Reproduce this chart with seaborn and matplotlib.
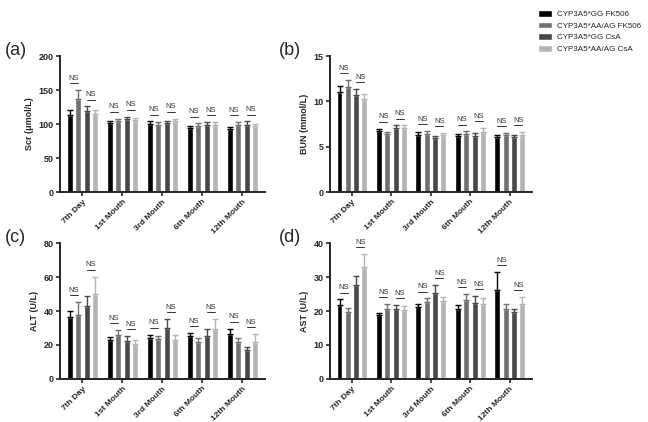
import matplotlib
matplotlib.use('Agg')

import numpy as np
import pandas as pd
import matplotlib.pyplot as plt
import seaborn as sns

# time points and groups
times = ['7th Day', '1st Mouth', '3rd Mouth', '6th Mouth', '12th Mouth']
groups = ['CYP3A5*GG FK506', 'CYP3A5*AA/AG FK506', 'CYP3A5*GG CsA', 'CYP3A5*AA/AG CsA']
colors = ['#000000', '#707070', '#484848', '#b4b4b4']

# means per group (rows = groups, cols = time points)
scr_mean = [[113, 101, 100, 94, 93], [137, 104, 99, 97, 99], [119, 108, 101, 99, 99], [115, 106, 105, 99, 97]]
scr_err = [[7, 4, 4, 3, 3], [13, 4, 4, 4, 4], [7, 3, 3, 4, 5], [5, 3, 3, 4, 3]]
bun_mean = [[11.0, 6.7, 6.3, 6.15, 6.05], [11.55, 6.35, 6.45, 6.45, 6.25], [10.7, 7.05, 5.95, 6.2, 6.05], [10.3, 7.05, 6.25, 6.65, 6.3]]
bun_err = [[0.7, 0.3, 0.3, 0.2, 0.25], [0.85, 0.3, 0.3, 0.25, 0.3], [0.65, 0.3, 0.25, 0.3, 0.25], [0.55, 0.3, 0.3, 0.45, 0.3]]
alt_mean = [[36.2, 22.8, 24.2, 25.0, 26.5], [37.7, 26.1, 23.6, 21.6, 21.6], [43.0, 22.6, 29.9, 25.0, 17.3], [49.9, 20.6, 23.0, 29.7, 22.0]]
alt_err = [[4.1, 1.8, 1.9, 2.1, 3.2], [7.5, 2.6, 1.9, 2.4, 2.4], [5.7, 2.7, 5.3, 4.3, 1.8], [10.4, 2.2, 3.1, 5.5, 4.3]]
ast_mean = [[21.8, 18.7, 21.3, 20.6, 26.2], [19.7, 20.7, 22.6, 23.1, 20.7], [27.7, 20.6, 25.4, 22.5, 19.7], [32.9, 20.2, 22.9, 22.1, 22.2]]
ast_err = [[1.6, 0.8, 0.9, 1.1, 5.2], [1.2, 1.4, 1.1, 1.9, 1.3], [2.5, 1.2, 2.3, 1.9, 0.8], [3.8, 1.2, 1.1, 1.7, 1.9]]

panels = [
    ('(a)', 'Scr (μmol/L)', scr_mean, scr_err, [0, 50, 100, 150, 200]),
    ('(b)', 'BUN (mmol/L)', bun_mean, bun_err, [0, 5, 10, 15]),
    ('(c)', 'ALT (U/L)', alt_mean, alt_err, [0, 20, 40, 60, 80]),
    ('(d)', 'AST (U/L)', ast_mean, ast_err, [0, 10, 20, 30, 40]),
]

sns.set_style('ticks')
plt.rcParams['font.family'] = ['Liberation Sans', 'DejaVu Sans']

fig = plt.figure(figsize=(6.48, 4.22), dpi=100)
positions = [
    [0.0926, 0.545, 0.316, 0.322],
    [0.509, 0.545, 0.312, 0.322],
    [0.0926, 0.102, 0.316, 0.322],
    [0.509, 0.102, 0.312, 0.322],
]
label_xy = [(0.008, 0.88), (0.43, 0.88), (0.008, 0.438), (0.43, 0.438)]

for i, (tag, ylab, means, errs, yticks) in enumerate(panels):
    ax = fig.add_axes(positions[i])
    rows = []
    for g, gname in enumerate(groups):
        for t, tname in enumerate(times):
            rows.append({'time': tname, 'group': gname, 'value': means[g][t], 'err': errs[g][t]})
    df = pd.DataFrame(rows)
    sns.barplot(data=df, x='time', y='value', hue='group', order=times, hue_order=groups,
                palette=colors, errorbar=None, width=0.84, gap=0.28, ax=ax,
                legend=(i == 0), saturation=1)

    # error bars (upper only), from bar patches
    bars = [p for p in ax.patches if p.get_height() > 0]
    centers = {}
    for g in range(len(groups)):
        for t in range(len(times)):
            p = bars[g * len(times) + t]
            cx = p.get_x() + p.get_width() / 2
            h = p.get_height()
            e = errs[g][t]
            ax.errorbar(cx, h, yerr=[[0], [e]], fmt='none', ecolor=colors[g],
                        elinewidth=1.0, capsize=2.0, capthick=1.0)
            centers[(g, t)] = (cx, h + e)

    ymax = yticks[-1]
    off = 0.05 * ymax
    for t in range(len(times)):
        for a, b in [(0, 1), (2, 3)]:
            x1, top1 = centers[(a, t)]
            x2, top2 = centers[(b, t)]
            yl = max(top1, top2) + off
            ax.plot([x1, x2], [yl, yl], color='#333333', lw=0.7)
            ax.text((x1 + x2) / 2, yl + 0.01 * ymax, 'NS', ha='center', va='bottom',
                    fontsize=5.5, color='#333333')

    if i == 0:
        handles, labels = ax.get_legend_handles_labels()
        ax.get_legend().remove()
        fig.legend(handles, labels, loc='upper left', bbox_to_anchor=(0.822, 0.99),
                   frameon=False, fontsize=5.8, handlelength=1.7, handleheight=0.9,
                   handletextpad=0.6, labelspacing=0.45, borderaxespad=0.3)

    ax.set_xlim(-0.56, 4.56)
    ax.set_ylim(0, ymax)
    ax.set_yticks(yticks)
    ax.set_xlabel('')
    ax.set_ylabel(ylab, fontsize=6.5, fontweight='bold', labelpad=3)
    ax.set_xticks(range(len(times)))
    ax.set_xticklabels(times, rotation=45, ha='right', rotation_mode='anchor',
                       fontsize=6, fontweight='bold')
    for lbl in ax.get_yticklabels():
        lbl.set_fontsize(6.5)
        lbl.set_fontweight('bold')
    for s in ['left', 'bottom']:
        ax.spines[s].set_linewidth(1.4)
    sns.despine(ax=ax)
    ax.tick_params(axis='both', width=1.2, length=3, pad=1.5)

    fig.text(label_xy[i][0], label_xy[i][1], tag, fontsize=13, ha='left', va='center')

fig.savefig('out.png', dpi=100)
